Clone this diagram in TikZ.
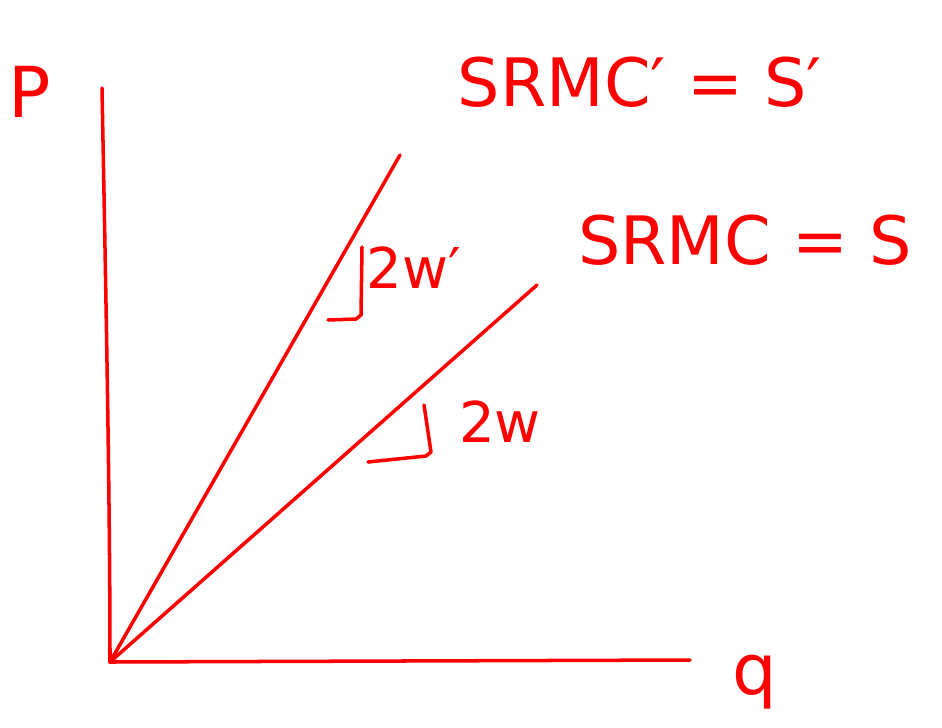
\documentclass[tikz,border=0pt]{standalone}
\usepackage{fontspec}
\newfontfamily\handfont{DejaVu Sans}
\usetikzlibrary{positioning}

\begin{document}
\begin{tikzpicture}[
  x=0.02cm,y=-0.02cm,
  pen/.style={draw=red, line width=2pt, line cap=round, line join=round},
  hand/.style={text=red, font=\handfont\fontsize{38}{42}\selectfont, inner sep=0pt},
  small/.style={hand, font=\handfont\fontsize{32}{36}\selectfont}
]
\useasboundingbox[fill=white] (0,0) rectangle (942,727);
% axes
\coordinate (O) at (110,662);
\coordinate (ptop) at (102,88);
\coordinate (qend) at (690,660);
\draw[pen] (ptop) .. controls (106,300) and (110,500) .. (O) -- (qend);
\node[hand, font=\handfont\fontsize{40}{44}\selectfont] (plabel) at (30,92) {P};
\node[hand, font=\handfont\fontsize{40}{44}\selectfont] (qlabel) at (755,682) {q};
% supply curves
\coordinate (sprime) at (400,155);
\coordinate (s) at (537,285);
\draw[pen] (O) -- (sprime);
\draw[pen] (O) -- (s);
\node[hand] (srmcprime) at (640,82) {SRMC′ = S′};
\node[hand] (srmc) at (745,240) {SRMC = S};
% slopes
\coordinate (a1) at (362,247);
\coordinate (a2) at (328,320);
\draw[pen] (a1) -- (361,315) -- (356,319) -- (a2);
\node[small] (wprime) at (414,268) {2w′};
\coordinate (b1) at (424,405);
\coordinate (b2) at (368,462);
\draw[pen] (b1) -- (431,452) -- (426,456) -- (b2);
\node[small] (w) at (500,422) {2w};
\end{tikzpicture}
\end{document}
